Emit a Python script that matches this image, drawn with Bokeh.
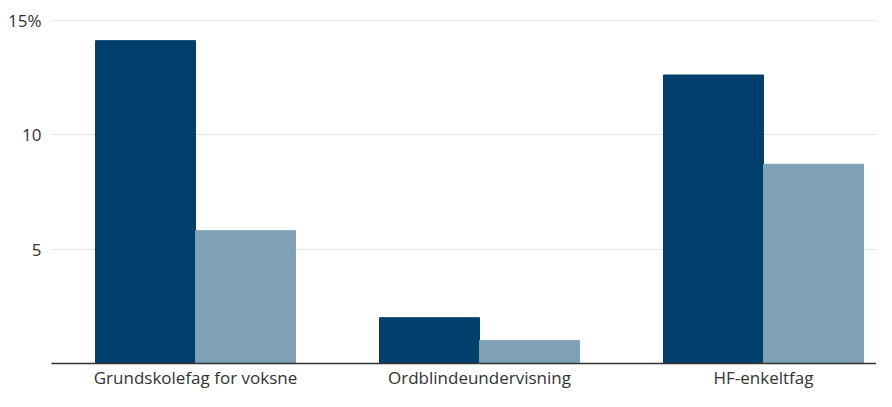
from bokeh.plotting import figure
from bokeh.models import Range1d, FixedTicker, ColumnDataSource
from bokeh.transform import dodge
from bokeh.embed import file_html
from bokeh.resources import INLINE

categories = ["Grundskolefag for voksne", "Ordblindeundervisning", "HF-enkeltfag"]
series_1 = [14.1, 2.0, 12.6]
series_2 = [5.8, 1.0, 8.7]
y_ticks = [5, 10, 15]
y_tick_labels = ["5", "10", "15%"]

color_1 = "#003f6b"
color_2 = "#7fa1b5"
font = "Open Sans"
text_color = "#333333"
bar_w = 0.352

src = ColumnDataSource(dict(x=list(range(len(categories))), s1=series_1, s2=series_2))

p = figure(width=876, height=391, output_backend="svg", toolbar_location=None,
           x_range=Range1d(-0.507, 2.398), y_range=Range1d(0, 15.33),
           min_border_left=51, min_border_right=0, min_border_top=12, min_border_bottom=0)

p.vbar(x=dodge("x", -bar_w / 2, range=p.x_range), top="s1", width=bar_w, bottom=0,
       source=src, fill_color=color_1, line_color=color_1)
p.vbar(x=dodge("x", bar_w / 2, range=p.x_range), top="s2", width=bar_w, bottom=0,
       source=src, fill_color=color_2, line_color=color_2)

p.outline_line_color = None
p.xgrid.grid_line_color = None
p.ygrid.grid_line_color = "#e6e6e6"
p.ygrid.grid_line_width = 1

p.xaxis.ticker = FixedTicker(ticks=list(range(len(categories))))
p.xaxis.major_label_overrides = {i: c for i, c in enumerate(categories)}
p.xaxis.axis_line_color = "#333333"
p.xaxis.axis_line_width = 1.5
p.xaxis.major_label_standoff = 2
p.xaxis.axis_label_standoff = 0

p.yaxis.ticker = FixedTicker(ticks=y_ticks)
p.yaxis.major_label_overrides = {t: l for t, l in zip(y_ticks, y_tick_labels)}
p.yaxis.axis_line_color = None
p.yaxis.major_label_standoff = 10
p.ygrid.ticker = FixedTicker(ticks=y_ticks)

for ax in (p.xaxis, p.yaxis):
    ax.major_tick_line_color = None
    ax.minor_tick_line_color = None
    ax.major_tick_out = 0
    ax.major_tick_in = 0
    ax.minor_tick_out = 0
    ax.minor_tick_in = 0
    ax.major_label_text_font = font
    ax.major_label_text_font_size = "17px"
    ax.major_label_text_color = text_color

open("out.html", "w").write(file_html(p, INLINE))
